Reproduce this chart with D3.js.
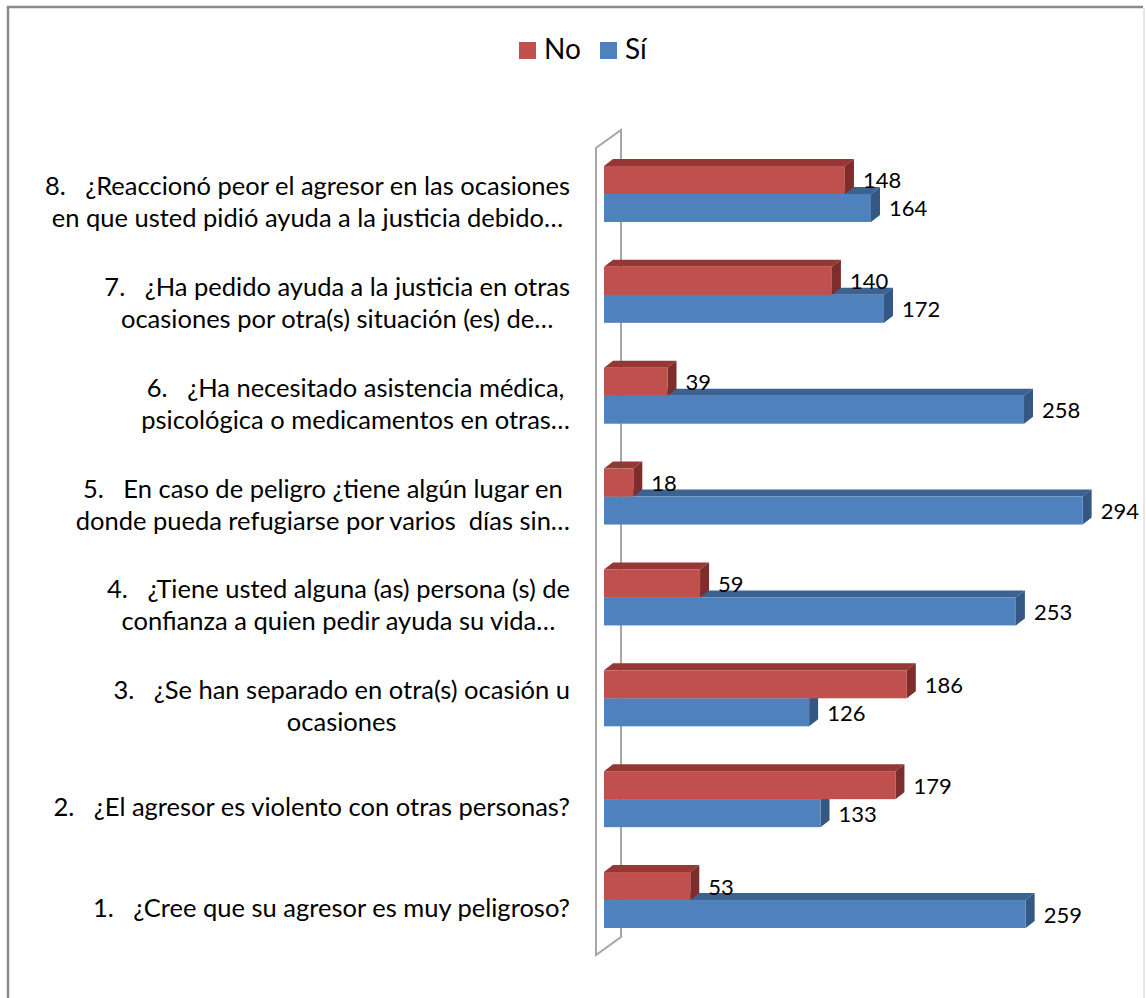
<!DOCTYPE html>
<html>
<head>
<meta charset="utf-8">
<script src="https://cdn.jsdelivr.net/npm/d3@7"></script>
<style>
  body { margin: 0; background: #fff; }
  svg { display: block; font-family: Lato, 'Open Sans', sans-serif; }
</style>
</head>
<body>
<svg id="chart"></svg>
<script>
// data, top category first
const categories = ['8', '7', '6', '5', '4', '3', '2', '1']
const labelLines = [
  ['8.   ¿Reaccionó peor el agresor en las ocasiones', 'en que usted pidió ayuda a la justicia debido…'],
  ['7.   ¿Ha pedido ayuda a la justicia en otras', 'ocasiones por otra(s) situación (es) de…'],
  ['6.   ¿Ha necesitado asistencia médica,', 'psicológica o medicamentos en otras…'],
  ['5.   En caso de peligro ¿tiene algún lugar en', 'donde pueda refugiarse por varios  días sin…'],
  ['4.   ¿Tiene usted alguna (as) persona (s) de', 'confianza a quien pedir ayuda su vida…'],
  ['3.   ¿Se han separado en otra(s) ocasión u', 'ocasiones'],
  ['2.   ¿El agresor es violento con otras personas?'],
  ['1.   ¿Cree que su agresor es muy peligroso?']
]
const seriesNames = ['No', 'Sí']
const noValues = [148, 140, 39, 18, 59, 186, 179, 53]
const siValues = [164, 172, 258, 294, 253, 126, 133, 259]

const WIDTH = 1146
const HEIGHT = 998
const DX = 9, DY = -7          // bar depth
const WALL_DX = 25, WALL_DY = -18
const FONT = 22
const LABEL_FONT = 25.5

const colors = {
  'No': {front: '#c0504d', top: '#953735', side: '#7d2e2c'},
  'Sí': {front: '#4f81bd', top: '#3b6291', side: '#345883'}
}

const data = categories.map((c, i) => ({
  cat: c, lines: labelLines[i],
  values: [{s: 'No', v: noValues[i]}, {s: 'Sí', v: siValues[i]}]
}))

const svg = d3.select('#chart')
  .attr('width', WIDTH)
  .attr('height', HEIGHT)

// chart border
svg.append('path')
  .attr('d', `M8,${HEIGHT} L8,7 L1143,7`)
  .attr('fill', 'none').attr('stroke', '#8a8a8a').attr('stroke-width', 2.5)
svg.append('line')
  .attr('x1', 1144).attr('x2', 1144).attr('y1', 8).attr('y2', HEIGHT)
  .attr('stroke', '#e0e0e0').attr('stroke-width', 1.5)

const y = d3.scaleBand()
  .domain(categories)
  .range([121.1, 972.9])
  .padding(0.445)
const ys = d3.scaleBand()
  .domain(seriesNames)
  .range([0, y.bandwidth()])
const x = d3.scaleLinear()
  .domain([0, 300])
  .range([604, 1092.4])

// side wall
const wallX = x(0) - 8
const wallTop = 148, wallBottom = 955
svg.append('path')
  .attr('d', `M${wallX},${wallTop} L${wallX + WALL_DX},${wallTop + WALL_DY} L${wallX + WALL_DX},${wallBottom + WALL_DY} L${wallX},${wallBottom} Z`)
  .attr('fill', '#fff')
  .attr('stroke', '#a6a6a6')
  .attr('stroke-width', 2)

// bars
const groups = svg.selectAll('.cat')
  .data(data)
  .enter().append('g')
    .attr('class', 'cat')
    .attr('transform', d => `translate(0,${y(d.cat)})`)

const bar = groups.selectAll('.bar')
  .data(d => d.values.slice().reverse())
  .enter().append('g')
    .attr('class', 'bar')

bar.append('path')  // top face
  .attr('d', d => {
    const x0 = x(0), x1 = x(d.v), t = ys(d.s)
    return `M${x0},${t} L${x0 + DX},${t + DY} L${x1 + DX},${t + DY} L${x1},${t} Z`
  })
  .attr('fill', d => colors[d.s].top)
bar.append('path')  // right face
  .attr('d', d => {
    const x1 = x(d.v), t = ys(d.s), b = t + ys.bandwidth()
    return `M${x1},${t} L${x1 + DX},${t + DY} L${x1 + DX},${b + DY} L${x1},${b} Z`
  })
  .attr('fill', d => colors[d.s].side)
bar.append('rect')  // front face
  .attr('x', x(0))
  .attr('y', d => ys(d.s))
  .attr('width', d => x(d.v) - x(0))
  .attr('height', ys.bandwidth())
  .attr('fill', d => colors[d.s].front)

// value labels
groups.selectAll('.val')
  .data(d => d.values)
  .enter().append('text')
    .attr('class', 'val')
    .attr('x', d => x(d.v) + DX + 9)
    .attr('y', d => ys(d.s) + ys.bandwidth() / 2)
    .attr('dominant-baseline', 'central')
    .attr('font-size', FONT)
    .attr('fill', '#000')
    .text(d => d.v)

// category labels: centered lines, block right-aligned
const LABEL_RIGHT = 570
const LINE_H = 32
groups.each(function(d) {
  const g = d3.select(this)
  const cy = y.bandwidth() / 2 + 7
  const texts = d.lines.map((line, i) => g.append('text')
    .style('white-space', 'pre')
    .attr('font-size', LABEL_FONT)
    .attr('dominant-baseline', 'central')
    .attr('text-anchor', 'middle')
    .attr('y', cy + (i - (d.lines.length - 1) / 2) * LINE_H)
    .text(line))
  const w = d3.max(texts, t => t.node().getComputedTextLength())
  texts.forEach(t => t.attr('x', LABEL_RIGHT - w / 2))
})

// legend
const legend = svg.append('g')
  .attr('class', 'legend')
  .attr('transform', 'translate(519,42)')
const item = legend.selectAll('.item')
  .data(seriesNames)
  .enter().append('g')
    .attr('class', 'item')
    .attr('transform', (d, i) => `translate(${i * 81},0)`)
item.append('rect')
  .attr('width', 17).attr('height', 17)
  .attr('fill', d => colors[d].front)
item.append('text')
  .attr('x', 25)
  .attr('y', 17)
  .attr('font-size', 28)
  .text(d => d)
</script>
</body>
</html>
